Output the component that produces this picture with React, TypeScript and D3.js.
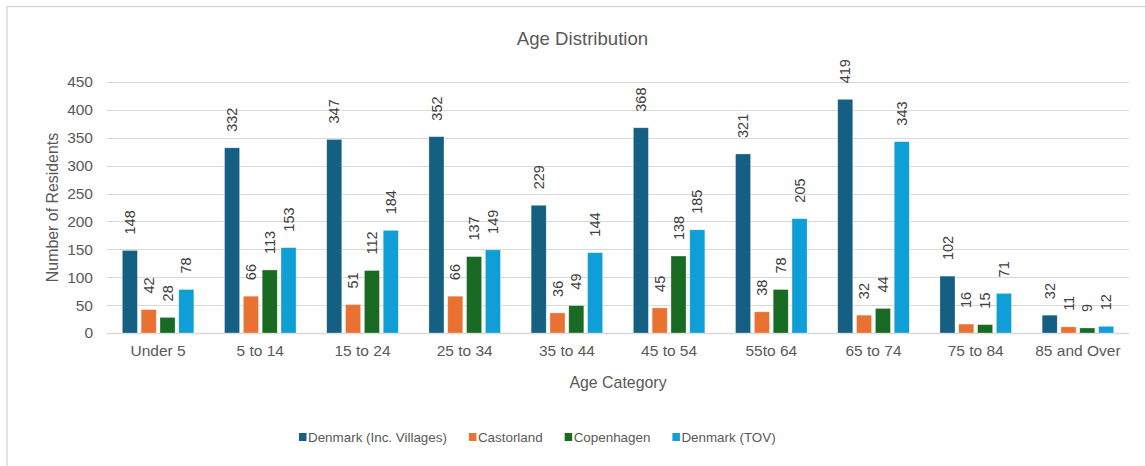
import React, { useRef, useEffect } from "react";
import * as d3 from "d3";

const categories = [
  "Under 5",
  "5 to 14",
  "15 to 24",
  "25 to 34",
  "35 to 44",
  "45 to 54",
  "55to 64",
  "65 to 74",
  "75 to 84",
  "85 and Over",
];

const seriesNames = [
  "Denmark (Inc. Villages)",
  "Castorland",
  "Copenhagen",
  "Denmark (TOV)",
];

const denmarkVillages = [148, 332, 347, 352, 229, 368, 321, 419, 102, 32];
const castorland = [42, 66, 51, 66, 36, 45, 38, 32, 16, 11];
const copenhagen = [28, 113, 112, 137, 49, 138, 78, 44, 15, 9];
const denmarkTov = [78, 153, 184, 149, 144, 185, 205, 343, 71, 12];

const yTicks = [0, 50, 100, 150, 200, 250, 300, 350, 400, 450];

const colors = ["#156082", "#E97132", "#196B24", "#0F9ED5"];

const App: React.FC = () => {
  const svgRef = useRef<SVGSVGElement>(null);

  useEffect(() => {
    const width = 1145;
    const height = 466;
    const font = "'Liberation Sans', Arial, sans-serif";
    const textColor = "#595959";

    const svg = d3.select(svgRef.current);
    svg.selectAll("*").remove();

    // chart frame (extends beyond the visible page)
    svg
      .append("rect")
      .attr("x", 7)
      .attr("y", 6.5)
      .attr("width", width + 20)
      .attr("height", height + 20)
      .attr("fill", "#fff")
      .attr("stroke", "#d9d9d9")
      .attr("stroke-width", 1.5);

    const plot = { left: 107, right: 1129, top: 82, bottom: 333 };

    const allSeries = [denmarkVillages, castorland, copenhagen, denmarkTov];

    const x0 = d3
      .scaleBand<string>()
      .domain(categories)
      .range([plot.left, plot.right])
      .paddingInner(0.3)
      .paddingOuter(0.15);

    const x1 = d3
      .scaleBand<string>()
      .domain(seriesNames)
      .range([0, x0.bandwidth()])
      .paddingInner(0.2);

    const y = d3.scaleLinear().domain([0, 450]).range([plot.bottom, plot.top]);

    // gridlines
    svg
      .append("g")
      .selectAll("line")
      .data(yTicks)
      .enter()
      .append("line")
      .attr("x1", plot.left)
      .attr("x2", plot.right)
      .attr("y1", (d) => Math.round(y(d)) + 0.5)
      .attr("y2", (d) => Math.round(y(d)) + 0.5)
      .attr("stroke", "#d9d9d9")
      .attr("stroke-width", (d) => (d === 0 ? 1.5 : 1));

    // y tick labels
    svg
      .append("g")
      .selectAll("text")
      .data(yTicks)
      .enter()
      .append("text")
      .attr("x", 93)
      .attr("y", (d) => y(d))
      .attr("dy", "0.35em")
      .attr("text-anchor", "end")
      .style("font-family", font)
      .style("font-size", "15.5px")
      .style("fill", textColor)
      .text((d) => d);

    // bars
    const groups = svg
      .append("g")
      .selectAll("g")
      .data(categories)
      .enter()
      .append("g")
      .attr("transform", (d) => `translate(${x0(d)},0)`);

    groups
      .selectAll("rect")
      .data((_, i) => seriesNames.map((s, j) => ({ s, j, v: allSeries[j][i] })))
      .enter()
      .append("rect")
      .attr("x", (d) => x1(d.s)!)
      .attr("y", (d) => y(d.v))
      .attr("width", x1.bandwidth())
      .attr("height", (d) => plot.bottom - y(d.v))
      .attr("fill", (d) => colors[d.j])
      .attr("stroke", "#ffffff")
      .attr("stroke-opacity", 0.5)
      .attr("stroke-width", 0.6);

    // data labels, rotated
    groups
      .selectAll("text")
      .data((_, i) => seriesNames.map((s, j) => ({ s, j, v: allSeries[j][i] })))
      .enter()
      .append("text")
      .attr("transform", (d) => {
        const cx = x1(d.s)! + x1.bandwidth() / 2;
        const cy = y(d.v) - 16;
        return `translate(${cx},${cy}) rotate(-90)`;
      })
      .attr("dy", "0.35em")
      .attr("text-anchor", "start")
      .style("font-family", font)
      .style("font-size", "14.5px")
      .style("fill", "#404040")
      .text((d) => d.v);

    // x tick labels
    svg
      .append("g")
      .selectAll("text")
      .data(categories)
      .enter()
      .append("text")
      .attr("x", (d) => x0(d)! + x0.bandwidth() / 2)
      .attr("y", 351)
      .attr("dy", "0.35em")
      .attr("text-anchor", "middle")
      .style("font-family", font)
      .style("font-size", "15.5px")
      .style("fill", textColor)
      .text((d) => d);

    // title
    svg
      .append("text")
      .attr("x", 582.5)
      .attr("y", 45)
      .attr("text-anchor", "middle")
      .style("font-family", font)
      .style("font-size", "18.6px")
      .style("fill", textColor)
      .text("Age Distribution");

    // axis titles
    svg
      .append("text")
      .attr("x", (plot.left + plot.right) / 2)
      .attr("y", 388)
      .attr("text-anchor", "middle")
      .style("font-family", font)
      .style("font-size", "15.9px")
      .style("fill", textColor)
      .text("Age Category");

    svg
      .append("text")
      .attr("transform", `translate(52,${(plot.top + plot.bottom) / 2}) rotate(-90)`)
      .attr("dy", "0.35em")
      .attr("text-anchor", "middle")
      .style("font-family", font)
      .style("font-size", "15.9px")
      .style("fill", textColor)
      .text("Number of Residents");

    // legend
    const legend = svg.append("g").attr("transform", "translate(299,437)");
    let lx = 0;
    seriesNames.forEach((name, i) => {
      const item = legend.append("g").attr("transform", `translate(${lx},0)`);
      item
        .append("rect")
        .attr("x", 0)
        .attr("y", -4)
        .attr("width", 7.5)
        .attr("height", 8)
        .attr("fill", colors[i]);
      const t = item
        .append("text")
        .attr("x", 9)
        .attr("y", 0)
        .attr("dy", "0.35em")
        .style("font-family", font)
        .style("font-size", "13.4px")
        .style("fill", textColor)
        .text(name);
      const w = (t.node() as SVGTextElement).getComputedTextLength();
      lx += 9 + w + 22;
    });
  }, []);

  return (
    <svg
      ref={svgRef}
      width={1145}
      height={466}
      style={{ position: "absolute", left: 0, top: 0, background: "#fff" }}
    ></svg>
  );
};

export default App;
